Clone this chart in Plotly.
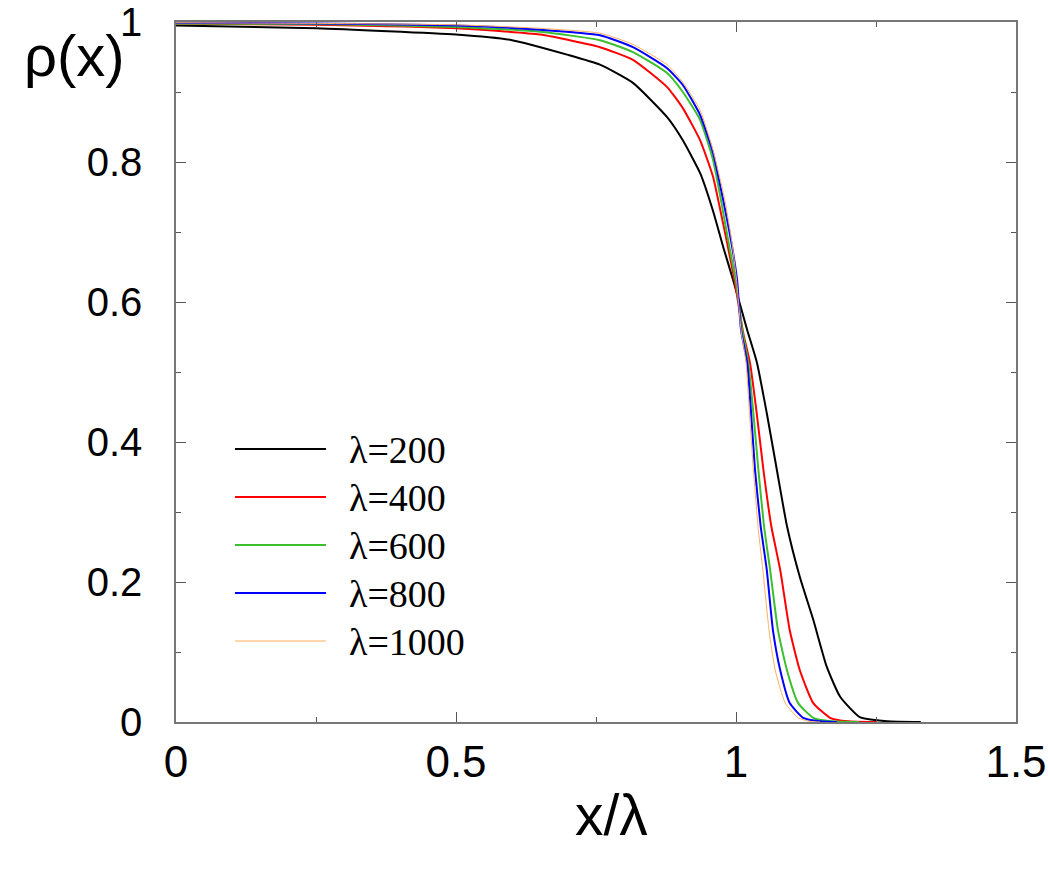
import plotly.graph_objects as go

# ---- data ----
labels = ["λ=200", "λ=400", "λ=600", "λ=800", "λ=1000"]
colors = ["#000000", "#FF0000", "#3CBF2E", "#0000FF", "#FFB060"]
widths = [2, 2, 2, 2, 1]

x200 = [0, 0.25, 0.5, 0.6, 0.7, 0.757, 0.816, 0.877, 0.905, 0.936, 0.959, 0.977, 0.995, 1.02, 1.0375, 1.055, 1.073, 1.091, 1.114, 1.138, 1.162, 1.186, 1.221, 1.27, 1.33]
y200 = [0.995, 0.991, 0.982, 0.974, 0.953, 0.939, 0.913, 0.864, 0.831, 0.784, 0.73, 0.679, 0.631, 0.56, 0.513, 0.441, 0.36, 0.28, 0.207, 0.146, 0.079, 0.036, 0.007, 0.001, 0.0]

x400 = [0, 0.25, 0.5, 0.65, 0.757, 0.816, 0.877, 0.905, 0.936, 0.959, 0.971, 0.984, 0.998, 1.013, 1.025, 1.037, 1.049, 1.063, 1.079, 1.096, 1.114, 1.138, 1.168, 1.2, 1.25]
y400 = [0.998, 0.996, 0.991, 0.982, 0.964, 0.946, 0.907, 0.877, 0.831, 0.779, 0.735, 0.685, 0.628, 0.555, 0.513, 0.441, 0.36, 0.28, 0.217, 0.131, 0.074, 0.027, 0.006, 0.001, 0.0]

x600 = [0, 0.25, 0.5, 0.65, 0.757, 0.816, 0.877, 0.905, 0.936, 0.959, 0.971, 0.980, 0.989, 1.0, 1.011, 1.022, 1.031, 1.040, 1.05, 1.061, 1.075, 1.091, 1.111, 1.138, 1.17, 1.22]
y600 = [0.998, 0.997, 0.993, 0.986, 0.974, 0.957, 0.927, 0.900, 0.86, 0.803, 0.755, 0.715, 0.675, 0.628, 0.56, 0.513, 0.441, 0.36, 0.28, 0.217, 0.131, 0.074, 0.027, 0.006, 0.001, 0.0]

x800 = [0, 0.25, 0.5, 0.65, 0.757, 0.816, 0.877, 0.905, 0.936, 0.959, 0.977, 0.993, 1.002, 1.009, 1.02, 1.027, 1.034, 1.044, 1.055, 1.066, 1.079, 1.096, 1.12, 1.15, 1.18]
y800 = [0.999, 0.998, 0.995, 0.989, 0.981, 0.964, 0.934, 0.91, 0.867, 0.813, 0.746, 0.679, 0.631, 0.56, 0.513, 0.441, 0.36, 0.28, 0.217, 0.131, 0.074, 0.027, 0.006, 0.001, 0.0]

x1000 = [0, 0.25, 0.5, 0.65, 0.757, 0.816, 0.877, 0.905, 0.936, 0.959, 0.980, 0.993, 1.001, 1.009, 1.018, 1.024, 1.031, 1.040, 1.048, 1.059, 1.070, 1.088, 1.111, 1.13, 1.15]
y1000 = [0.999, 0.998, 0.996, 0.991, 0.984, 0.968, 0.939, 0.914, 0.874, 0.817, 0.746, 0.684, 0.631, 0.56, 0.513, 0.441, 0.36, 0.274, 0.217, 0.131, 0.074, 0.027, 0.006, 0.001, 0.0]

xs = [x200, x400, x600, x800, x1000]
ys = [y200, y400, y600, y800, y1000]

x_ticks = [0, 0.5, 1, 1.5]
x_ticktext = ["0", "0.5", "1", "1.5"]
y_ticks = [0, 0.2, 0.4, 0.6, 0.8, 1]
y_ticktext = ["0", "0.2", "0.4", "0.6", "0.8", "1"]

fig = go.Figure()
for xv, yv, name, c, w in zip(xs, ys, labels, colors, widths):
    fig.add_trace(go.Scatter(x=xv, y=yv, mode="lines", name=name,
                             line=dict(color=c, width=w, shape="spline", smoothing=0.5),
                             showlegend=False))

# manual legend (long sample lines as in the reference)
L, R, T, B = 176, 1016, 22, 722
def px(xp):
    return (xp - L) / (R - L)
def py(yp):
    return (B - yp) / (B - T)

legend_rows = [449, 497, 545, 593, 641]
for row, name, c, w in zip(legend_rows, labels, colors, widths):
    fig.add_shape(type="line", xref="paper", yref="paper",
                  x0=px(235), x1=px(326), y0=py(row), y1=py(row),
                  line=dict(color=c, width=w))
    fig.add_annotation(xref="paper", yref="paper", x=px(347), y=py(row + 1),
                       text=name, showarrow=False, xanchor="left", yanchor="middle",
                       font=dict(family="Liberation Serif", size=38, color="black"))

fig.add_annotation(xref="paper", yref="paper", x=px(22), y=py(55),
                   text="ρ(x)", showarrow=False, xanchor="left", yanchor="middle",
                   font=dict(family="Liberation Sans", size=58, color="black"))
fig.add_annotation(xref="paper", yref="paper", x=px(611), y=py(815),
                   text="x/λ", showarrow=False, xanchor="center", yanchor="middle",
                   font=dict(family="Liberation Sans", size=57, color="black"))

axis_common = dict(showline=True, linecolor="#777777", linewidth=1.5, mirror="allticks",
                   ticks="inside", ticklen=10, tickwidth=1.2, tickcolor="#555555",
                   showgrid=False, zeroline=False, automargin=False)
fig.update_xaxes(range=[0, 1.5], tickvals=x_ticks, ticktext=x_ticktext,
                 tickfont=dict(family="Liberation Sans", size=44, color="black"),
                 ticklabelstandoff=0,
                 minor=dict(ticks="inside", ticklen=5, tickwidth=1, tickcolor="#555555", dtick=0.25, tick0=0),
                 **axis_common)
fig.update_yaxes(range=[0, 1], tickvals=y_ticks, ticktext=y_ticktext,
                 tickfont=dict(family="Liberation Sans", size=40, color="black"),
                 ticklabelstandoff=24,
                 minor=dict(ticks="inside", ticklen=5, tickwidth=1, tickcolor="#555555", dtick=0.1, tick0=0),
                 **axis_common)

fig.update_layout(width=1048, height=882, margin=dict(l=L, r=1048 - R, t=T, b=882 - B),
                  plot_bgcolor="white", paper_bgcolor="white")

fig.write_html("out.html")
